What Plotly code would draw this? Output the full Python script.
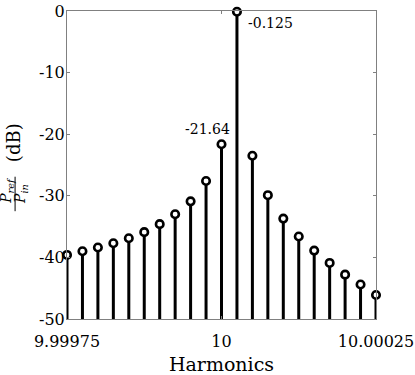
import plotly.graph_objects as go

# Data
harmonics = [9.99975, 9.999775, 9.9998, 9.999825, 9.99985, 9.999875, 9.9999,
             9.999925, 9.99995, 9.999975, 10.0, 10.000025, 10.00005, 10.000075,
             10.0001, 10.000125, 10.00015, 10.000175, 10.0002, 10.000225, 10.00025]
power_db = [-39.6, -39.0, -38.4, -37.7, -36.9, -35.9, -34.6, -33.0, -30.9, -27.6,
            -21.64, -0.125, -23.5, -29.9, -33.7, -36.6, -38.9, -40.9, -42.8, -44.4, -46.1]
y_base = -50
x_ticks = [9.99975, 10.0, 10.00025]
x_ticktext = ["9.99975", "10", "10.00025"]
y_ticks = [0, -10, -20, -30, -40, -50]
y_ticktext = ["0", "-10", "-20", "-30", "-40", "-50"]
peak_labels = [(10.0, -21.64, "-21.64"), (10.000025, -0.125, "-0.125")]

FONT = "DejaVu Serif"

sx, sy = [], []
for x, y in zip(harmonics, power_db):
    sx += [x, x, None]
    sy += [y_base, y, None]

fig = go.Figure()
fig.add_trace(go.Scatter(x=sx, y=sy, mode="lines",
                         line=dict(color="black", width=3), hoverinfo="skip",
                         cliponaxis=False, showlegend=False))
fig.add_trace(go.Scatter(x=harmonics, y=power_db, mode="markers",
                         marker=dict(symbol="circle", size=7.5, color="white",
                                     line=dict(color="black", width=2.6)),
                         cliponaxis=False, showlegend=False))

ann = []
ann.append(dict(x=peak_labels[0][0], y=peak_labels[0][1], text=peak_labels[0][2],
                xref="x", yref="y", showarrow=False, xanchor="right", yanchor="middle",
                xshift=10, yshift=15, font=dict(family=FONT, size=14, color="black")))
ann.append(dict(x=peak_labels[1][0], y=peak_labels[1][1], text=peak_labels[1][2],
                xref="x", yref="y", showarrow=False, xanchor="left", yanchor="middle",
                xshift=9, yshift=-11, font=dict(family=FONT, size=14, color="black")))
# y-axis label: fraction P_ref / P_in (dB)
ann.append(dict(x=0, y=0.416, xref="paper", yref="paper", xshift=-60, textangle=-90,
                text="<i>P</i><sub><i>ref</i></sub>", showarrow=False,
                xanchor="center", yanchor="middle",
                font=dict(family=FONT, size=14, color="black")))
ann.append(dict(x=0, y=0.406, xref="paper", yref="paper", xshift=-46, textangle=-90,
                text="<i>P</i><sub><i>in</i></sub>", showarrow=False,
                xanchor="center", yanchor="middle",
                font=dict(family=FONT, size=14, color="black")))
ann.append(dict(x=0, y=0.571, xref="paper", yref="paper", xshift=-54, textangle=-90,
                text="(dB)", showarrow=False, xanchor="center", yanchor="middle",
                font=dict(family=FONT, size=18, color="black")))

fig.update_layout(
    width=415, height=375,
    margin=dict(l=67, r=39, t=11, b=56, autoexpand=False),
    paper_bgcolor="white", plot_bgcolor="white",
    font=dict(family=FONT, size=16, color="black"),
    annotations=ann,
    shapes=[dict(type="line", xref="paper", yref="paper",
                 x0=-0.168, x1=-0.168, y0=0.350, y1=0.462,
                 line=dict(color="black", width=1))],
    xaxis=dict(range=[9.99975, 10.00025], tickvals=x_ticks, ticktext=x_ticktext,
               automargin=False, ticklabelstandoff=8,
               showgrid=False, zeroline=False, showline=True, linecolor="#808080",
               linewidth=1, mirror="ticks", ticks="inside", ticklen=3,
               tickcolor="#808080", tickfont=dict(family=FONT, size=16),
               title=dict(text="Harmonics", font=dict(family=FONT, size=19), standoff=12)),
    yaxis=dict(range=[-50, 0], tickvals=y_ticks, ticktext=y_ticktext,
               automargin=False, ticklabelstandoff=-2,
               showgrid=False, zeroline=False, showline=True, linecolor="#808080",
               linewidth=1, mirror="ticks", ticks="inside", ticklen=3,
               tickcolor="#808080", tickfont=dict(family=FONT, size=16)),
)

fig.write_html("out.html", config={"displayModeBar": False},
               post_script="document.body.style.margin='0';")
